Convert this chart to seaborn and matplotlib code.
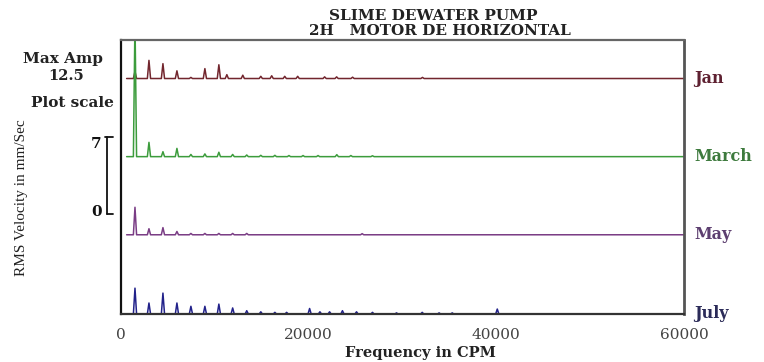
import numpy as np
import pandas as pd
import matplotlib
matplotlib.use("Agg")
import matplotlib.pyplot as plt
import matplotlib.transforms as mtransforms
import seaborn as sns

# ---------------- data ----------------
months = ["Jan", "March", "May", "July"]

# peak frequencies (CPM) and amplitudes (mm/sec) for each survey
jan_freq = [1490, 2980, 4470, 5960, 7450, 8940, 10430, 11280, 12980, 14900,
            16060, 17450, 18830, 21700, 22980, 24680, 32130]
jan_amp = [0.65, 1.65, 1.35, 0.70, 0.10, 0.90, 1.25, 0.35, 0.30, 0.20,
           0.25, 0.20, 0.20, 0.15, 0.15, 0.12, 0.10]

march_freq = [1490, 2980, 4470, 5960, 7450, 8940, 10430, 11900, 13400,
              14900, 16400, 17900, 19400, 21000, 23000, 24500, 26800]
march_amp = [12.5, 1.30, 0.45, 0.75, 0.20, 0.25, 0.40, 0.20, 0.15,
             0.12, 0.12, 0.10, 0.10, 0.10, 0.18, 0.10, 0.08]

may_freq = [1490, 2980, 4470, 5960, 7450, 8940, 10430, 11900, 13400, 25700]
may_amp = [2.50, 0.55, 0.65, 0.30, 0.12, 0.12, 0.12, 0.12, 0.12, 0.10]

july_freq = [1490, 2980, 4470, 5960, 7450, 8940, 10430, 11900, 13400, 14900,
             16400, 17650, 20100, 21200, 22230, 23600, 25100, 26800, 29360,
             32100, 33900, 35300, 40100]
july_amp = [2.35, 1.00, 1.90, 1.00, 0.70, 0.70, 0.90, 0.55, 0.30, 0.20,
            0.15, 0.15, 0.50, 0.20, 0.20, 0.30, 0.20, 0.15, 0.10,
            0.15, 0.10, 0.10, 0.45]

x_ticks = [0, 20000, 40000, 60000]
top_ticks = [20000, 40000]
max_amp = 12.5
scale_span = 7

# ---------------- layout / style ----------------
offsets = {"Jan": 21.4, "March": 14.3, "May": 7.2, "July": 0.0}
line_colors = {"Jan": "#72262e", "March": "#3c9c3c", "May": "#7a3d85", "July": "#22228a"}
label_colors = {"Jan": "#5e2131", "March": "#3d7a3d", "May": "#5d3f70", "July": "#2b2b58"}
half_width = 170   # CPM, half base width of each spectral spike
f_start, f_end = 600, 60000

series = {
    "Jan": (jan_freq, jan_amp),
    "March": (march_freq, march_amp),
    "May": (may_freq, may_amp),
    "July": (july_freq, july_amp),
}

rows = []
for m in months:
    fr, am = series[m]
    base = offsets[m]
    rows.append((m, f_start, base))
    for f, a in sorted(zip(fr, am)):
        rows.append((m, f - half_width, base))
        rows.append((m, f, base + a))
        rows.append((m, f + half_width, base))
    rows.append((m, f_end, base))
df = pd.DataFrame(rows, columns=["month", "freq", "vel"])

sns.set_theme(style="white")
plt.rcParams["font.family"] = ["DejaVu Serif", "DejaVu Sans"]

fig = plt.figure(figsize=(7.64, 3.62), dpi=100)
ax = fig.add_axes([121 / 764, 48 / 362, 563 / 764, 274 / 362])

sns.lineplot(data=df, x="freq", y="vel", hue="month", hue_order=months,
             palette=line_colors, estimator=None, sort=False, legend=False,
             linewidth=1.1, ax=ax)

ax.set_xlim(0, 60000)
ax.set_ylim(0, 24.9)
ax.set_yticks([])
ax.set_xticks(x_ticks)
ax.set_xticklabels([str(t) for t in x_ticks], fontsize=11, color="#444444")
ax.set_xticks(top_ticks, minor=True)
ax.tick_params(axis="x", which="major", bottom=False, top=False, pad=4,
               labelbottom=True)
ax.tick_params(axis="x", which="minor", bottom=False, top=True, direction="inout",
               length=5, width=1, color="#333333")
ax.set_xlabel("")
ax.set_ylabel("")

for side, col, lw in [("left", "#111111", 1.6), ("bottom", "#333333", 1.6),
                      ("top", "#666666", 1.6), ("right", "#555555", 2.0)]:
    ax.spines[side].set_visible(True)
    ax.spines[side].set_color(col)
    ax.spines[side].set_linewidth(lw)

# month labels at the right
trans = mtransforms.blended_transform_factory(ax.transAxes, ax.transData)
for m in months:
    ax.text(1.018, offsets[m], m, transform=trans, ha="left", va="center",
            fontsize=11.5, fontweight="bold", color=label_colors[m], clip_on=False)

# plot-scale bar
bar_base = 9.1
bar_x = -0.0245
ax.plot([bar_x, bar_x], [bar_base, bar_base + scale_span], transform=trans,
        color="#111111", lw=1.3, clip_on=False)
ax.plot([bar_x - 0.004, bar_x + 0.011], [bar_base + scale_span] * 2, transform=trans,
        color="#111111", lw=1.3, clip_on=False)
ax.plot([bar_x, bar_x + 0.011], [bar_base, bar_base], transform=trans,
        color="#111111", lw=1.3, clip_on=False)
ax.text(-0.034, bar_base + scale_span, str(scale_span), transform=trans,
        ha="right", va="top", fontsize=11, fontweight="bold", color="#111111")
ax.text(-0.034, bar_base + 0.15, "0", transform=trans,
        ha="right", va="center", fontsize=11, fontweight="bold", color="#111111")

# left annotations
fig.text(63 / 764, 1 - 59 / 362, "Max Amp", ha="center", va="center",
         fontsize=11, fontweight="bold", color="#222222")
fig.text(66 / 764, 1 - 76 / 362, f"{max_amp}", ha="center", va="center",
         fontsize=10.5, fontweight="bold", color="#222222")
fig.text(72 / 764, 1 - 103 / 362, "Plot scale", ha="center", va="center",
         fontsize=11, fontweight="bold", color="#222222")
fig.text(22 / 764, 1 - 198 / 362, "RMS Velocity in mm/Sec", rotation=90,
         ha="center", va="center", fontsize=11, color="#222222",
         family=["Liberation Serif", "DejaVu Serif"])

# title
fig.text(433 / 764, 1 - 16 / 362, "SLIME DEWATER PUMP", ha="center", va="center",
         fontsize=11, fontweight="bold", color="#222222")
fig.text(440 / 764, 1 - 31 / 362, "2H   MOTOR DE HORIZONTAL", ha="center", va="center",
         fontsize=11, fontweight="bold", color="#222222")

# x-axis title
fig.text(420 / 764, 1 - 353 / 362, "Frequency in CPM", ha="center", va="center",
         fontsize=10.5, fontweight="bold", color="#222222")

fig.savefig("out.png", dpi=100)
